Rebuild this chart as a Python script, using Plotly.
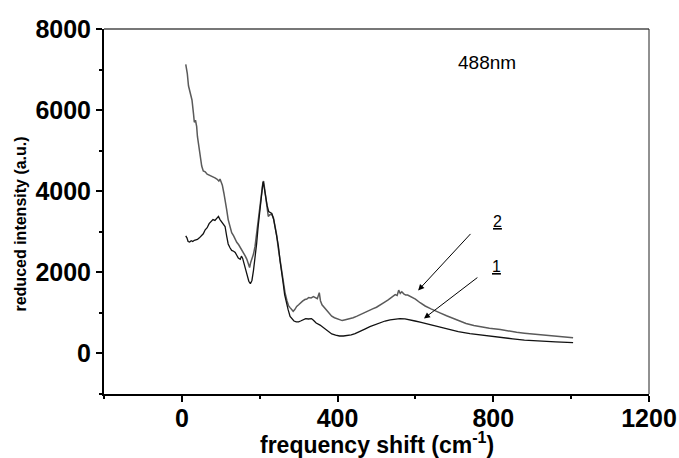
import plotly.graph_objects as go

# Curve 2 (grey, upper at low frequency)
x2 = [10, 14, 17, 21, 26, 30, 32, 35, 38, 40, 45, 51, 55, 60, 65, 70, 75, 80, 85, 90, 95, 98, 101, 104,
      108, 111, 115, 119, 124, 128, 133, 137, 141, 146, 150, 154, 158, 163, 167, 171, 174, 177, 180, 184,
      188, 192, 197, 201, 205, 208, 210, 213, 216, 219, 222, 226, 231, 235, 240, 244, 247, 252, 257, 261,
      265, 270, 274, 278, 282, 286, 290, 295, 300, 305, 310, 316, 321, 326, 332, 338, 343, 348, 353, 356,
      360, 366, 372, 378, 385, 392, 398, 405, 412, 420, 430, 440, 450, 460, 470, 480, 490, 500, 510, 520,
      530, 540, 548, 553, 557, 561, 565, 570, 575, 580, 590, 600, 612, 625, 640, 650, 663, 680, 700, 714,
      730, 750, 770, 790, 818, 840, 860, 880, 900, 920, 940, 960, 980, 1005]
y2 = [7130, 6900, 6600, 6450, 6250, 5900, 5700, 5750, 5600, 5350, 4950, 4620, 4500, 4480, 4420, 4400, 4380,
      4360, 4330, 4300, 4250, 4300, 4200, 4150, 3950, 3800, 3550, 3300, 3150, 2980, 2900, 2800, 2740, 2680,
      2620, 2560, 2500, 2400, 2320, 2200, 2120, 2250, 2320, 2450, 2640, 2950, 3300, 3700, 4040, 4200, 4250,
      4050, 3800, 3550, 3380, 3420, 3430, 3350, 3130, 2900, 2640, 2300, 2000, 1750, 1500, 1300, 1180, 1130,
      1080, 1040, 1080, 1160, 1200, 1250, 1290, 1330, 1340, 1380, 1370, 1400, 1370, 1350, 1500, 1300, 1200,
      1130, 1060, 980, 920, 880, 860, 820, 810, 830, 850, 880, 920, 970, 1010, 1050, 1100, 1140, 1210, 1260,
      1320, 1390, 1450, 1430, 1560, 1480, 1520, 1470, 1440, 1440, 1390, 1340, 1250, 1170, 1100, 1050, 1000,
      930, 850, 790, 740, 690, 650, 620, 590, 550, 520, 500, 480, 460, 440, 420, 400, 390]

# Curve 1 (black)
x1 = [10, 13, 16, 20, 24, 28, 32, 36, 40, 45, 50, 55, 60, 65, 70, 75, 80, 85, 90, 94, 98, 102, 106, 111,
      115, 119, 124, 128, 133, 137, 141, 145, 150, 153, 156, 160, 164, 168, 172, 176, 180, 184, 188, 192,
      196, 200, 204, 207, 209, 212, 215, 219, 223, 227, 231, 236, 240, 244, 248, 252, 256, 260, 264, 268,
      273, 278, 283, 288, 294, 300, 305, 312, 318, 325, 333, 338, 345, 355, 365, 375, 385, 395, 405, 415,
      425, 435, 445, 458, 470, 483, 497, 510, 522, 535, 548, 560, 573, 586, 599, 612, 625, 638, 655, 670,
      689, 710, 740, 770, 800, 818, 850, 880, 920, 960, 1005]
y1 = [2900, 2850, 2760, 2750, 2780, 2760, 2790, 2800, 2810, 2850, 2900, 2950, 3050, 3100, 3200, 3250, 3300,
      3280, 3350, 3380, 3300, 3250, 3200, 3130, 2900, 2700, 2600, 2540, 2520, 2490, 2420, 2350, 2320, 2400,
      2350, 2200, 2080, 1950, 1780, 1720, 1800, 2050, 2320, 2700, 3130, 3550, 3870, 4100, 4240, 4050, 3880,
      3650, 3500, 3480, 3450, 3300, 3100, 2900, 2650, 2300, 1950, 1750, 1450, 1250, 1080, 910, 850, 800, 780,
      780, 800, 830, 860, 850, 860, 820, 750, 700, 620, 540, 480, 450, 430, 430, 440, 460, 490, 540, 600,
      660, 715, 760, 800, 830, 850, 860, 850, 830, 800, 770, 740, 710, 660, 620, 580, 540, 490, 450, 410,
      395, 360, 330, 300, 285, 265]

x_ticks = [0, 400, 800, 1200]
y_ticks = [0, 2000, 4000, 6000, 8000]

fig = go.Figure()
fig.add_trace(go.Scatter(x=x2, y=y2, mode="lines", line=dict(color="#5a5a5a", width=1.5), name="2"))
fig.add_trace(go.Scatter(x=x1, y=y1, mode="lines", line=dict(color="#111111", width=1.3), name="1"))

tickfont_x = dict(family="Arial, Liberation Sans", size=25, color="black", weight="bold")
tickfont_y = dict(family="Arial, Liberation Sans", size=25, color="black", weight="bold")

fig.update_xaxes(range=[-200, 1200], tickmode="array", tickvals=x_ticks, ticktext=[str(v) for v in x_ticks],
                 ticks="outside", ticklen=6, tickwidth=1.5, tickcolor="black", automargin=False,
                 ticklabelstandoff=-5,
                 showline=True, linewidth=2, linecolor="black", showgrid=False, zeroline=False,
                 tickfont=tickfont_x,
                 minor=dict(ticks="outside", ticklen=3, tickwidth=1.5, tickcolor="black",
                            tickmode="array", tickvals=[-200, 200, 600, 1000]))
fig.update_yaxes(range=[-1000, 8000], tickmode="array", tickvals=y_ticks, ticktext=[str(v) for v in y_ticks],
                 ticks="outside", ticklen=6, tickwidth=1.5, tickcolor="black", automargin=False,
                 showline=True, linewidth=2, linecolor="black", showgrid=False, zeroline=False,
                 tickfont=tickfont_y,
                 minor=dict(ticks="outside", ticklen=3, tickwidth=1.5, tickcolor="black",
                            tickmode="array", tickvals=[-1000, 1000, 3000, 5000, 7000]))

# frame top and right
fig.add_shape(type="line", xref="paper", yref="paper", x0=0, x1=1, y0=1, y1=1,
              line=dict(color="#777777", width=2))
fig.add_shape(type="line", xref="paper", yref="paper", x0=1, x1=1, y0=0, y1=1,
              line=dict(color="#222222", width=1))

annots = [
    dict(text="488nm", x=0.702, y=0.908, xref="paper", yref="paper", showarrow=False,
         xanchor="center", yanchor="middle",
         font=dict(family="Arial, Liberation Sans", size=19, color="black")),
    dict(text="<u>2</u>", x=812, y=3255, xref="x", yref="y", showarrow=False,
         xanchor="center", yanchor="middle",
         font=dict(family="Arial, Liberation Sans", size=16, color="black")),
    dict(text="<u>1</u>", x=809, y=2145, xref="x", yref="y", showarrow=False,
         xanchor="center", yanchor="middle",
         font=dict(family="Arial, Liberation Sans", size=16, color="black")),
    dict(text="", x=607, y=1554, ax=745, ay=2984, xref="x", yref="y", axref="x", ayref="y",
         showarrow=True, arrowhead=2, arrowsize=1.2, arrowwidth=1, arrowcolor="black"),
    dict(text="", x=622, y=863, ax=763, ay=1899, xref="x", yref="y", axref="x", ayref="y",
         showarrow=True, arrowhead=2, arrowsize=1.2, arrowwidth=1, arrowcolor="black"),
    dict(text="frequency shift (cm<sup>-1</sup>)", x=0.5, y=-0.134, xref="paper", yref="paper",
         showarrow=False, xanchor="center", yanchor="middle",
         font=dict(family="Arial, Liberation Sans", size=23, color="black", weight="bold")),
    dict(text="reduced intensity (a.u.)", x=-0.153, y=0.466, xref="paper", yref="paper",
         showarrow=False, textangle=-90, xanchor="center", yanchor="middle",
         font=dict(family="Arial, Liberation Sans", size=16, color="black", weight="bold")),
]
fig.update_layout(annotations=annots)

fig.update_layout(width=679, height=458, margin=dict(l=104, r=30, t=29, b=64, autoexpand=False),
                  plot_bgcolor="white", paper_bgcolor="white", showlegend=False)

fig.write_html("out.html", config={"displayModeBar": False},
               post_script="document.body.style.margin='0px';document.body.style.overflow='hidden';")
